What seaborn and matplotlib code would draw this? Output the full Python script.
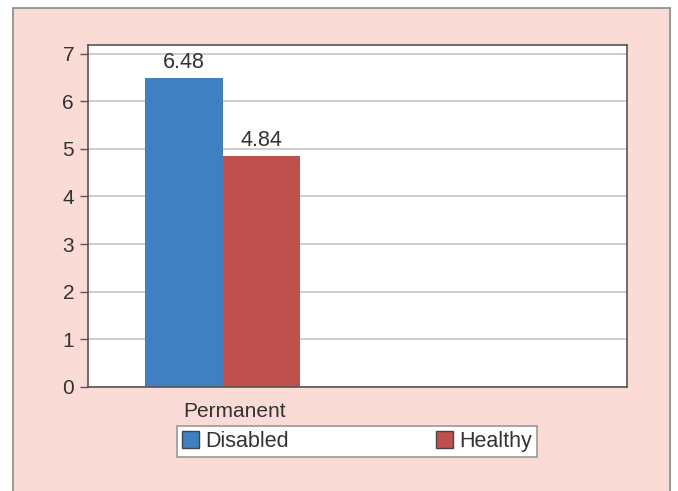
import matplotlib
matplotlib.use("Agg")
import matplotlib.pyplot as plt
import matplotlib.transforms as mtransforms
import seaborn as sns
import pandas as pd
from matplotlib.patches import Rectangle, Patch

categories = ["Permanent", ""]
groups = ["Disabled", "Healthy"]
values = [6.48, 4.84]
value_labels = ["6.48", "4.84"]
y_ticks = [0, 1, 2, 3, 4, 5, 6, 7]
colors = ["#4080c2", "#c0504e"]

df = pd.DataFrame({"category": ["Permanent", "Permanent"], "group": groups, "value": values})

sns.set_theme(style="white")
plt.rcParams['font.family'] = ['Liberation Sans', 'DejaVu Sans']

fig = plt.figure(figsize=(6.78, 4.91), dpi=100)
fig.patch.set_facecolor("white")
bg = Rectangle((13/678, -0.05), (670-13)/678, 1.05 - 8/491, transform=fig.transFigure,
               facecolor="#fadbd6", edgecolor="#8a8a8a", linewidth=1.2, zorder=-10)
fig.patches.append(bg)

ax = fig.add_axes([88/678, (491-387)/491, (627-88)/678, (387-45)/491])
ax.set_facecolor("white")
sns.barplot(data=df, x="category", y="value", hue="group", order=categories,
            hue_order=groups, palette=colors, width=0.574, gap=0, saturation=1,
            ax=ax, legend=False, linewidth=0)

for cont, lab in zip(ax.containers, value_labels):
    ax.bar_label(cont, labels=[lab], padding=4, fontsize=15.5, color="#333333")

ax.set_xlim(-0.5, 1.5)
ax.set_ylim(0, 7.18)
ax.set_yticks(y_ticks)
ax.yaxis.grid(True, color="#c6c6c6", linewidth=1.2)
ax.set_axisbelow(True)
ax.set_xlabel("")
ax.set_ylabel("")
ax.tick_params(axis="y", which="both", left=True, length=6, width=1, color="#555555",
               labelsize=15, labelcolor="#333333", pad=4)
ax.tick_params(axis="x", bottom=False, labelsize=15, labelcolor="#333333", pad=5)
offset = mtransforms.ScaledTranslation(12/100, 0, fig.dpi_scale_trans)
for lbl in ax.get_xticklabels():
    lbl.set_transform(lbl.get_transform() + offset)
for s in ax.spines.values():
    s.set_color("#555555")
    s.set_linewidth(1.2)

handles = [Patch(facecolor=c, edgecolor="#444444", linewidth=1) for c in colors]
leg = fig.legend(handles, groups, loc="center", bbox_to_anchor=(357/678, (491-441.5)/491),
                 ncol=2, frameon=True, fancybox=False, fontsize=15.5, handlelength=0.8,
                 handleheight=0.8, handletextpad=0.3, columnspacing=6.8,
                 borderpad=0.25, borderaxespad=0, edgecolor="#9a9a9a", facecolor="white",
                 framealpha=1)
leg.get_frame().set_linewidth(1.2)
for t in leg.get_texts():
    t.set_color("#333333")

fig.savefig("out.png", dpi=100, facecolor=fig.get_facecolor())
